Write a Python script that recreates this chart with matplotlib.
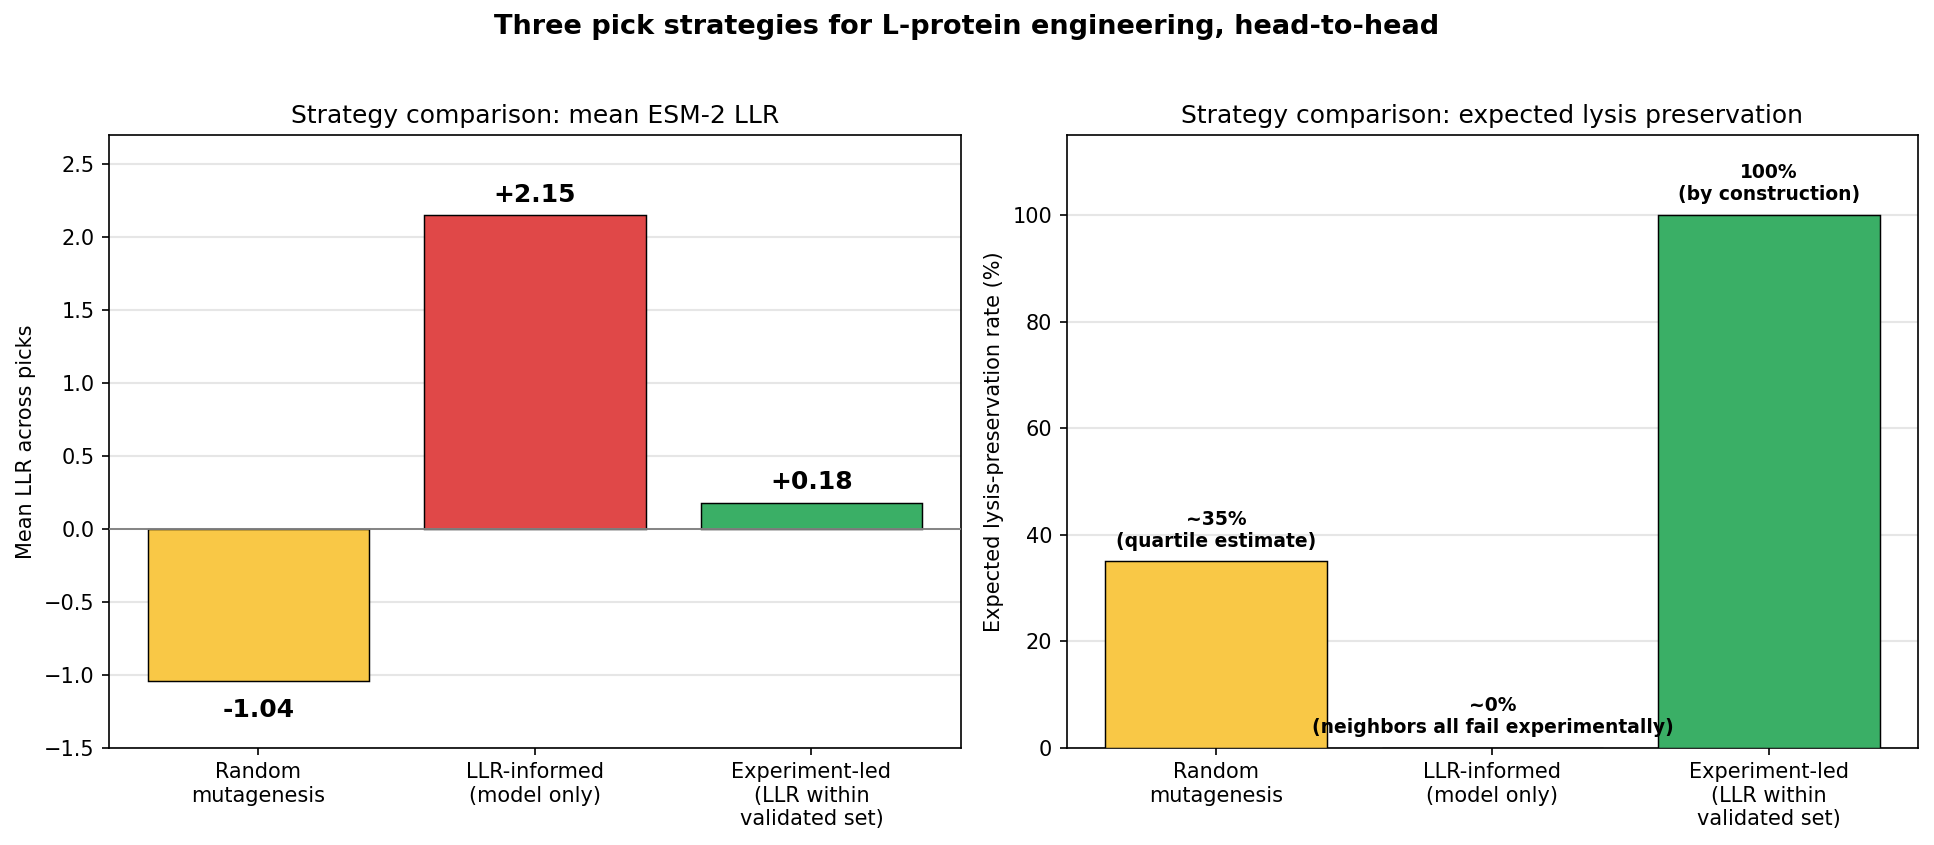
import numpy as np
import matplotlib
matplotlib.use("Agg")
import matplotlib.pyplot as plt

# data
strategies = ["Random\nmutagenesis", "LLR-informed\n(model only)",
              "Experiment-led\n(LLR within\nvalidated set)"]
mean_llr = [-1.04, 2.15, 0.18]
llr_labels = ["-1.04", "+2.15", "+0.18"]
lysis_pct = [35, 0, 100]
lysis_labels = ["~35%\n(quartile estimate)",
                "~0%\n(neighbors all fail experimentally)",
                "100%\n(by construction)"]
colors = ["#f9c846", "#e04848", "#3aaf66"]

fig = plt.figure(figsize=(1934 / 150, 845 / 150), dpi=150)
ax1 = fig.add_axes([0.0564, 0.115, 0.4404, 0.725])
ax2 = fig.add_axes([0.5515, 0.115, 0.4404, 0.725])

x = np.arange(len(strategies))

# left panel: mean LLR
ax1.bar(x, mean_llr, width=0.8, color=colors, edgecolor="black",
        linewidth=0.7, zorder=3)
ax1.axhline(0, color="gray", linewidth=0.9, zorder=4)
for xi, v, lab in zip(x, mean_llr, llr_labels):
    if v >= 0:
        ax1.text(xi, v + 0.06, lab, ha="center", va="bottom",
                 fontsize=12, fontweight="bold")
    else:
        ax1.text(xi, v - 0.12, lab, ha="center", va="top",
                 fontsize=12, fontweight="bold")
ax1.set_ylim(-1.5, 2.7)
ax1.set_xticks(x)
ax1.set_xticklabels(strategies, fontsize=10)
ax1.tick_params(axis="y", labelsize=10)
ax1.set_ylabel("Mean LLR across picks", fontsize=10)
ax1.set_title("Strategy comparison: mean ESM-2 LLR", fontsize=12)
ax1.grid(axis="y", color="#e6e6e6", linewidth=1, zorder=0)
ax1.set_axisbelow(True)

# right panel: expected lysis preservation
ax2.bar(x, lysis_pct, width=0.8, color=colors, edgecolor="black",
        linewidth=0.7, zorder=3)
for xi, v, lab in zip(x, lysis_pct, lysis_labels):
    ax2.text(xi, v + 2, lab, ha="center", va="bottom",
             fontsize=9, fontweight="bold", zorder=5)
ax2.set_ylim(0, 115)
ax2.set_xticks(x)
ax2.set_xticklabels(strategies, fontsize=10)
ax2.tick_params(axis="y", labelsize=10)
ax2.set_ylabel("Expected lysis-preservation rate (%)", fontsize=10)
ax2.set_title("Strategy comparison: expected lysis preservation", fontsize=12)
ax2.grid(axis="y", color="#e6e6e6", linewidth=1, zorder=0)
ax2.set_axisbelow(True)

fig.suptitle("Three pick strategies for L-protein engineering, head-to-head",
             fontsize=13, fontweight="bold", y=0.983)

fig.savefig("out.png", dpi=150)
